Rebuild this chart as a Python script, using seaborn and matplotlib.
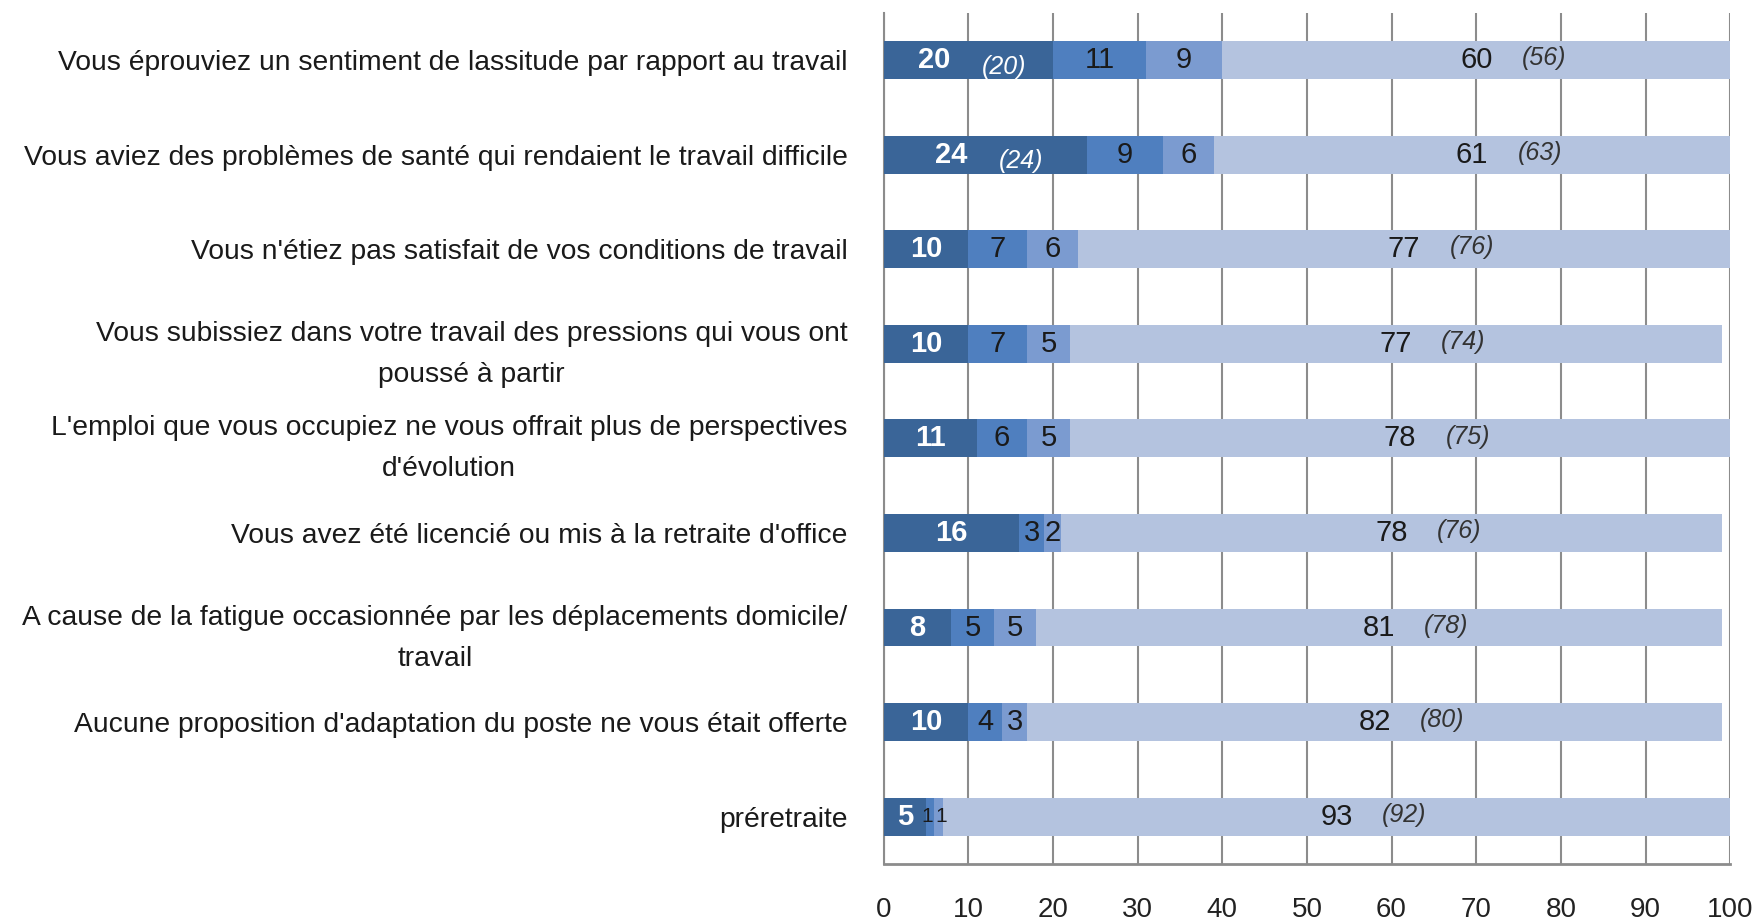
import matplotlib
matplotlib.use("Agg")
import matplotlib.pyplot as plt
import seaborn as sns
import numpy as np
import pandas as pd

# Data (percentages, 4 stacked segments per reason)
reasons = [
    "Vous éprouviez un sentiment de lassitude par rapport au travail",
    "Vous aviez des problèmes de santé qui rendaient le travail difficile",
    "Vous n'étiez pas satisfait de vos conditions de travail",
    "Vous subissiez dans votre travail des pressions qui vous ont\npoussé à partir",
    "L'emploi que vous occupiez ne vous offrait plus de perspectives\nd'évolution",
    "Vous avez été licencié ou mis à la retraite d'office",
    "A cause de la fatigue occasionnée par les déplacements domicile/\ntravail",
    "Aucune proposition d'adaptation du poste ne vous était offerte",
    "préretraite",
]
seg1 = [20, 24, 10, 10, 11, 16, 8, 10, 5]
seg2 = [11, 9, 7, 7, 6, 3, 5, 4, 1]
seg3 = [9, 6, 6, 5, 5, 2, 5, 3, 1]
seg4 = [60, 61, 77, 77, 78, 78, 81, 82, 93]
# values in brackets shown next to segment 1 and segment 4
paren1 = [20, 24, None, None, None, None, None, None, None]
paren4 = [56, 63, 76, 74, 75, 76, 78, 80, 92]
xticks = [0, 10, 20, 30, 40, 50, 60, 70, 80, 90, 100]

colors = ["#3a6598", "#4f7fbf", "#7b9bd0", "#b4c3df"]

sns.set_style("white")
plt.rcParams["font.family"] = ["Liberation Sans", "DejaVu Sans"]

df = pd.DataFrame({"reason": reasons, "s1": seg1, "s2": seg2, "s3": seg3, "s4": seg4})
df["c1"] = df["s1"]
df["c2"] = df["c1"] + df["s2"]
df["c3"] = df["c2"] + df["s3"]
df["c4"] = df["c3"] + df["s4"]

fig = plt.figure(figsize=(17.53, 9.22), dpi=100)
ax = fig.add_axes([0.504, 0.063, 0.483, 0.923])

# stacked bars: draw cumulative totals from longest to shortest
for col, color in zip(["c4", "c3", "c2", "c1"], colors[::-1]):
    sns.barplot(data=df, x=col, y="reason", color=color, width=0.4,
                saturation=1, ax=ax, orient="h", linewidth=0, zorder=3)

ax.set_xlim(0, 100)
ax.set_ylim(len(reasons) - 0.5, -0.5)
ax.set_xticks(xticks)
ax.set_xticklabels([str(t) for t in xticks], fontsize=20, color="#222222")
ax.set_xlabel("")
ax.set_ylabel("")

# gridlines
ax.grid(axis="x", color="#8c8c8c", linewidth=1.5, zorder=0)
ax.set_axisbelow(True)

# y tick labels at category centers, tick marks at boundaries
ax.set_yticks(range(len(reasons)))
ax.set_yticklabels(reasons, fontsize=20.3, color="#1a1a1a",
                   multialignment="center", linespacing=1.75)
ax.tick_params(axis="y", length=0, pad=26)
ax.set_yticks(np.arange(-0.5, len(reasons), 1), minor=True)
ax.tick_params(axis="y", which="minor", length=8, color="#8c8c8c", width=1.5, direction="out")
ax.tick_params(axis="x", length=10, color="#8c8c8c", width=1.5, direction="out", pad=14)

for side in ["top", "right"]:
    ax.spines[side].set_visible(False)
ax.spines["left"].set_color("#8c8c8c")
ax.spines["left"].set_linewidth(1.5)
ax.spines["bottom"].set_color("#8c8c8c")
ax.spines["bottom"].set_linewidth(2)

# value labels
fs = 21
for i, row in df.iterrows():
    lefts = [0, row["c1"], row["c2"], row["c3"]]
    widths = [row["s1"], row["s2"], row["s3"], row["s4"]]
    for k in range(4):
        cx = lefts[k] + widths[k] / 2
        size = fs
        if widths[k] <= 1:
            # tiny segments: smaller digits, nudged apart so they don't collide
            size = 15
            cx += -0.35 if k == 1 else 0.35
        if k == 0:
            if paren1[i] is not None:
                ax.text(cx - 4, i, str(widths[k]), ha="center", va="center",
                        fontsize=size, color="white", fontweight="bold", zorder=5)
                ax.text(cx + 4.2, i + 0.07, f"({paren1[i]})", ha="center", va="center",
                        fontsize=fs - 3, color="white", style="italic", zorder=5)
            else:
                ax.text(cx, i, str(widths[k]), ha="center", va="center",
                        fontsize=size, color="white", fontweight="bold", zorder=5)
        elif k == 3:
            ax.text(cx, i, str(widths[k]), ha="center", va="center",
                    fontsize=size, color="#1a1a1a", zorder=5)
            ax.text(cx + 8, i - 0.02, f"({paren4[i]})", ha="center", va="center",
                    fontsize=fs - 3, color="#333333", style="italic", zorder=5)
        else:
            ax.text(cx, i, str(widths[k]), ha="center", va="center",
                    fontsize=size, color="#1a1a1a", zorder=5)

fig.savefig("out.png", dpi=100)
